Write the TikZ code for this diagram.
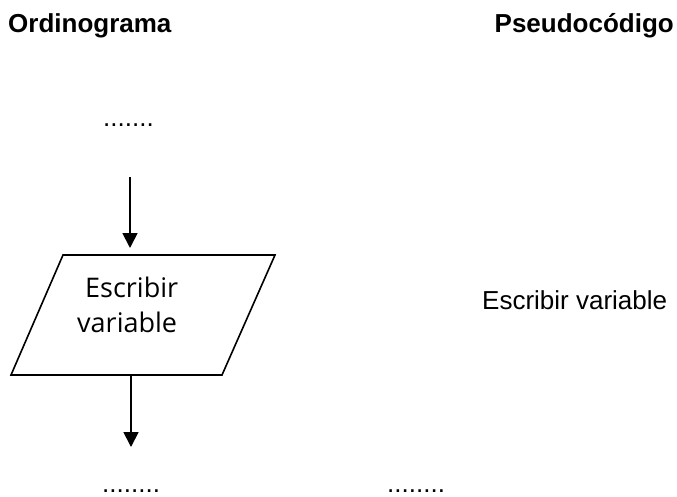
\documentclass[tikz,border=0pt]{standalone}
\usepackage{fontspec}
\setmainfont{Liberation Sans}
\newfontfamily\comicfont{Open Sans}
\usetikzlibrary{arrows.meta}
\begin{document}
\begin{tikzpicture}[x=1pt,y=-1pt,
  hdr/.style={font=\fontsize{26}{30}\selectfont\bfseries, inner sep=0pt},
  txt/.style={font=\fontsize{26}{30}\selectfont, inner sep=0pt},
  dotstxt/.style={txt, text depth=0pt, text height=4pt},
  shapetxt/.style={font=\comicfont\fontsize{27}{32}\selectfont, inner sep=0pt},
  boxline/.style={line width=1.6pt, line join=miter},
  arr/.style={line width=1.8pt, -{Triangle[length=15pt,width=15pt]}}]
\useasboundingbox (0,0) rectangle (677,496);
% headers
\node[hdr, anchor=base west] (h1) at (8,32) {Ordinograma};
\node[hdr, anchor=base east] (h2) at (674,32) {Pseudocódigo};
% dots
\node[dotstxt, anchor=base west] (dtop) at (103,126) {.......};
\node[dotstxt, anchor=base west] (dbl) at (102,492) {........};
\node[dotstxt, anchor=base west] (dbr) at (387,492) {........};
% pseudocode
\node[txt, anchor=base west] (ps) at (482,309) {Escribir variable};
% parallelogram
\coordinate (p1) at (63,255);
\coordinate (p2) at (275,255);
\coordinate (p3) at (222,375);
\coordinate (p4) at (11,375);
\draw[boxline] (p1) -- (p2) -- (p3) -- (p4) -- cycle;
\node[shapetxt, anchor=base west] (t1) at (85,297) {Escribir};
\node[shapetxt, anchor=base west] (t2) at (77,332) {variable};
% arrows
\coordinate (a1s) at (130,177);
\coordinate (a1e) at (130,248);
\coordinate (a2s) at (131,375);
\coordinate (a2e) at (131,447);
\draw[arr] (a1s) -- (a1e);
\draw[arr] (a2s) -- (a2e);
\end{tikzpicture}
\end{document}
